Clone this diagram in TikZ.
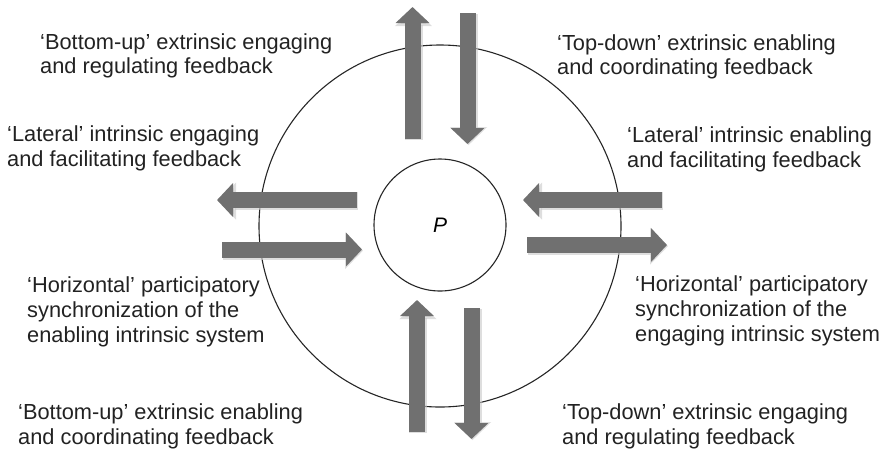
\documentclass[tikz,border=0pt]{standalone}
\usepackage{fontspec}
\setmainfont{Liberation Sans}
\usetikzlibrary{arrows.meta}
\definecolor{arrowgray}{RGB}{112,112,112}
\definecolor{halogray}{RGB}{200,200,200}
\definecolor{labeltext}{RGB}{34,34,34}
\tikzset{
  % a label's base anchor sits on the baseline of its last line
  label text/.style={anchor=base west, align=left, inner sep=0pt, text=labeltext,
    font=\fontsize{21.8pt}{24.6pt}\selectfont},
  ring/.style={draw=black!85, line width=1.1pt, circle, inner sep=0pt},
  fat arrow/.style={line width=16pt, color=arrowgray,
    -{Triangle[width=33pt,length=16pt]}},
  fat halo/.style={line width=18pt, color=halogray, opacity=0.6,
    -{Triangle[width=36pt,length=18pt]}},
}
% draw one thick block arrow with a soft grey halo beneath it
\newcommand\blockarrow[2]{%
  \draw[fat halo, transform canvas={xshift=1pt,yshift=-1.2pt}] (#1) -- (#2);
  \draw[fat arrow] (#1) -- (#2);}
\begin{document}
\begin{tikzpicture}[x=1pt,y=-1pt]
\useasboundingbox (0,0) rectangle (885,448);

% the outer field and the central person
\node[ring, minimum size=362pt] (outer) at (440,226) {};
\node[ring, minimum size=132pt, fill=white] (P) at (440,225) {};
\node[font=\fontsize{21pt}{21pt}\selectfont\itshape, inner sep=0pt] (Plabel) at (440,225) {P};

% end points of the eight block arrows
\coordinate (tuS) at (412.5,139);  \coordinate (tuE) at (412.5,7);
\coordinate (tdS) at (467.5,13);   \coordinate (tdE) at (467.5,144);
\coordinate (buS) at (417,432);    \coordinate (buE) at (417,300);
\coordinate (bdS) at (471.5,308);  \coordinate (bdE) at (471.5,439);
\coordinate (llS) at (357,200);    \coordinate (llE) at (217,200);
\coordinate (lrS) at (222,249.5);  \coordinate (lrE) at (362,249.5);
\coordinate (rlS) at (662,200);    \coordinate (rlE) at (523,200);
\coordinate (rrS) at (527,245);    \coordinate (rrE) at (667,245);

\blockarrow{tuS}{tuE}
\blockarrow{tdS}{tdE}
\blockarrow{buS}{buE}
\blockarrow{bdS}{bdE}
\blockarrow{llS}{llE}
\blockarrow{lrS}{lrE}
\blockarrow{rlS}{rlE}
\blockarrow{rrS}{rrE}

% feedback labels
\node[label text] (tl) at (40,73.6) {‘Bottom-up’ extrinsic engaging\\and regulating feedback};
\node[label text] (tr) at (557,74.6) {‘Top-down’ extrinsic enabling\\and coordinating feedback};
\node[label text] (ml) at (7,166) {‘Lateral’ intrinsic engaging\\and facilitating feedback};
\node[label text] (mr) at (627,167) {‘Lateral’ intrinsic enabling\\and facilitating feedback};
\node[label text] (hl) at (27,342) {‘Horizontal’ participatory\\synchronization of the\\enabling intrinsic system};
\node[label text] (hr) at (635,341) {‘Horizontal’ participatory\\synchronization of the\\engaging intrinsic system};
\node[label text] (bl) at (18,444) {‘Bottom-up’ extrinsic enabling\\and coordinating feedback};
\node[label text] (br) at (562,444) {‘Top-down’ extrinsic engaging\\and regulating feedback};
\end{tikzpicture}
\end{document}
